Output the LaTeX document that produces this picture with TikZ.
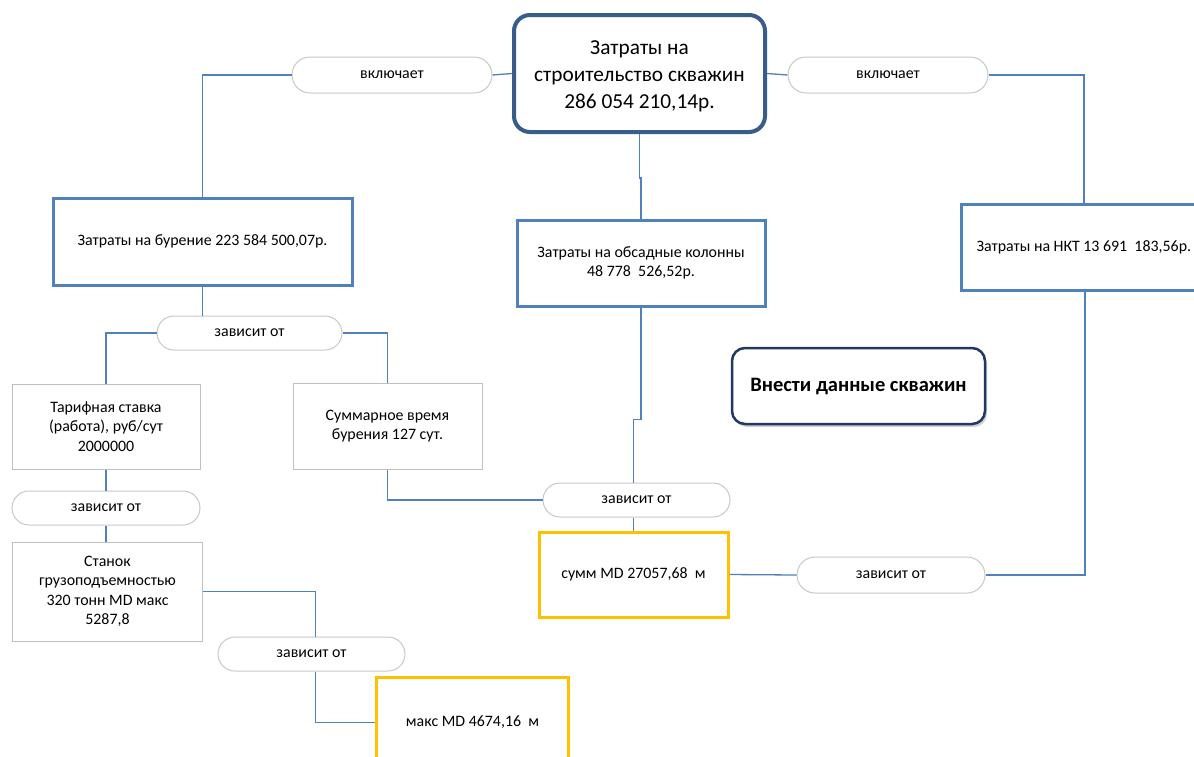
\documentclass[tikz,border=0pt]{standalone}
\usepackage{fontspec}
\setmainfont{Carlito}
\usetikzlibrary{shapes.misc,shadows,calc}
\definecolor{linkcol}{RGB}{79,129,189}
\definecolor{mainc}{RGB}{56,93,138}
\definecolor{navyc}{RGB}{31,56,100}
\definecolor{boxc}{RGB}{79,129,189}
\definecolor{grayc}{RGB}{191,191,191}
\definecolor{pillc}{RGB}{200,200,200}
\definecolor{yelc}{RGB}{255,192,0}
\begin{document}
\begin{tikzpicture}[x=1pt,y=-1pt,
  small/.style={font=\fontsize{15.9}{19.5}\selectfont},
  link/.style={draw=linkcol,line width=1.3pt},
  pill/.style={rounded rectangle,draw=pillc,line width=1pt,fill=white,small,inner sep=0pt},
  bluebox/.style={rectangle,draw=boxc,line width=3pt,fill=white,small,align=center,inner sep=0pt},
  graybox/.style={rectangle,draw=grayc,line width=1pt,fill=white,small,align=center,inner sep=0pt},
  yellowbox/.style={rectangle,draw=yelc,line width=3pt,fill=white,small,align=center,inner sep=0pt}]
\useasboundingbox (0,0) rectangle (1194,756);
\clip (0,0) rectangle (1194,756);
\fill[white] (0,0) rectangle (1194,756);
% nodes
\node[rectangle,rounded corners=16pt,draw=mainc,line width=4pt,fill=white,
  minimum width=251pt,minimum height=117pt,inner sep=0pt] (main) at (639.5,73.5) {};
\node[align=center,inner sep=0pt,font=\fontsize{21.3}{27}\selectfont] (maintxt)
  at ($(main.center)+(0,3)$) {Затраты на\\строительство скважин\\286 054 210,14р.};
\node[pill,minimum width=200pt,minimum height=36pt] (incL) at (392,75) {включает};
\node[pill,minimum width=200pt,minimum height=36pt] (incR) at (888,75) {включает};
\node[bluebox,minimum width=299pt,minimum height=87pt] (bur) at (202.5,241.5) {Затраты на бурение 223 584 500,07р.};
\node[bluebox,minimum width=248pt,minimum height=86pt] (obs) at (641,263) {Затраты на обсадные колонны\\48 778\ \ 526,52р.};
\node[bluebox,anchor=west,minimum width=270pt,minimum height=86pt,text width=240pt,align=flush left,inner xsep=15pt] (nkt) at (960,247) {Затраты на НКТ 13 691\ \ 183,56р.};
\coordinate (nktn) at ($(nkt.north west)+(124,0)$);
\coordinate (nkts) at ($(nkt.south west)+(125,0)$);
\node[pill,minimum width=185pt,minimum height=34pt] (zav1) at (249.5,333) {зависит от};
\node[graybox,minimum width=188pt,minimum height=85pt] (tar) at (106,426.5) {Тарифная ставка\\(работа), руб/сут\\2000000};
\node[graybox,minimum width=189pt,minimum height=86pt] (sumt) at (387.5,426) {Суммарное время\\бурения 127 сут.};
\node[pill,minimum width=187pt,minimum height=34pt] (zav3) at (636.5,500) {зависит от};
\node[yellowbox,minimum width=189pt,minimum height=85pt] (summ) at (633.5,574.5) {сумм MD 27057,68\ \ м};
\node[pill,minimum width=188pt,minimum height=36pt] (zav4) at (891,575) {зависит от};
\node[rectangle,rounded corners=13pt,draw=navyc,line width=2.5pt,fill=white,
  minimum width=253pt,minimum height=76pt,inner sep=0pt,
  drop shadow={opacity=0.35,shadow xshift=2pt,shadow yshift=-3pt},
  font=\fontsize{20.5}{24}\selectfont\bfseries] (vnesti) at (858.5,386) {Внести данные скважин};
\node[pill,minimum width=188pt,minimum height=34pt] (zav2) at (106,508) {зависит от};
\node[graybox,minimum width=190pt,minimum height=99pt] (stan) at (107.5,591.5) {Станок\\грузоподъемностью\\320 тонн MD макс\\5287,8};
\node[pill,minimum width=187pt,minimum height=34pt] (zav5) at (311.5,654) {зависит от};
\node[yellowbox,anchor=north west,minimum width=192pt,minimum height=90pt] (maks) at (375,676) {макс MD 4674,16\ \ м};
% connectors
\draw[link] (main.west) -- (incL.east);
\draw[link] (incL.west) -| (bur.north);
\draw[link] (main.east) -- (incR.west);
\draw[link] (incR.east) -| (nktn);
\draw[link] (main.south) -- ++(0,44) -| (obs.north);
\draw[link] (bur.south) -- (bur.south |- zav1.north);
\draw[link] (zav1.west) -| (tar.north);
\draw[link] (zav1.east) -| (sumt.north);
\draw[link] (tar.south) -- (tar.south |- zav2.north);
\draw[link] (zav2.south) -- (zav2.south |- stan.north);
\draw[link] (stan.east) -| ([xshift=4pt]zav5.north);
\draw[link] ([xshift=4pt]zav5.south) |- (maks.west);
\draw[link] (obs.south) -- ++(0,112) -| (summ.north |- zav3.north);
\draw[link] (sumt.south) |- (zav3.west);
\draw[link] (zav3.south -| summ.north) -- (summ.north);
\draw[link] (summ.east) -- (zav4.west);
\draw[link] (zav4.east) -| (nkts);
\end{tikzpicture}
\end{document}
